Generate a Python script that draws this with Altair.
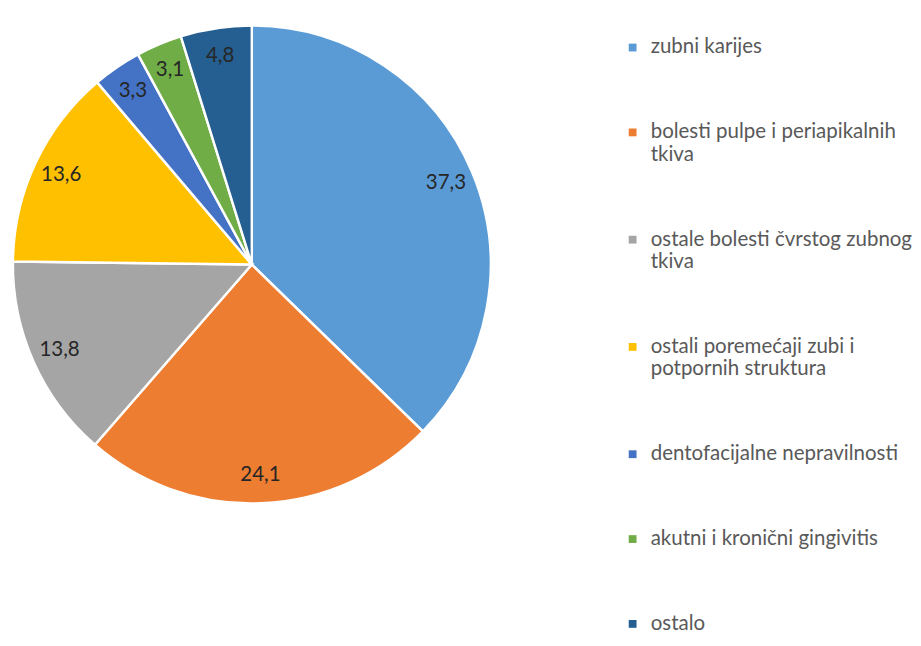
import altair as alt
import pandas as pd

categories = [
    "zubni karijes",
    "bolesti pulpe i periapikalnih tkiva",
    "ostale bolesti čvrstog zubnog tkiva",
    "ostali poremećaji zubi i potpornih struktura",
    "dentofacijalne nepravilnosti",
    "akutni i kronični gingivitis",
    "ostalo",
]
values = [37.3, 24.1, 13.8, 13.6, 3.3, 3.1, 4.8]
colors = ["#5B9BD5", "#ED7D31", "#A5A5A5", "#FFC000", "#4472C4", "#70AD47", "#255E91"]

df = pd.DataFrame({"category": categories, "value": values, "idx": list(range(len(categories)))})

base = alt.Chart(df).transform_calculate(
    label="replace(format(datum.value, '.1f'), '.', ',')"
).encode(
    theta=alt.Theta("value:Q", stack=True),
    order=alt.Order("idx:Q"),
)

arc = base.mark_arc(outerRadius=245, stroke="white", strokeWidth=2.5).encode(
    color=alt.Color(
        "category:N",
        scale=alt.Scale(domain=categories, range=colors),
        legend=alt.Legend(
            title=None,
            orient="none",
            legendX=624,
            legendY=22,
            padding=0,
            symbolType="square",
            symbolSize=64,
            symbolStrokeWidth=0,
            labelFont="Lato",
            labelFontSize=21,
            labelColor="#595959",
            labelOffset=8,
            labelLimit=300,
            rowPadding=65,
            labelExpr="split(replace(datum.label, regexp(' (tkiva|potpornih)'), '|$1'), '|')",
        ),
    )
)

text = base.mark_text(radius=216, fontSize=21, font="Lato", color="#262626").encode(
    detail="category:N",
    text="label:N",
)

chart = (
    alt.layer(arc, text)
    .properties(width=488, height=510, padding=0)
    .configure_view(stroke=None)
)

chart.save("out.html", embed_options={"renderer": "svg", "actions": False})
